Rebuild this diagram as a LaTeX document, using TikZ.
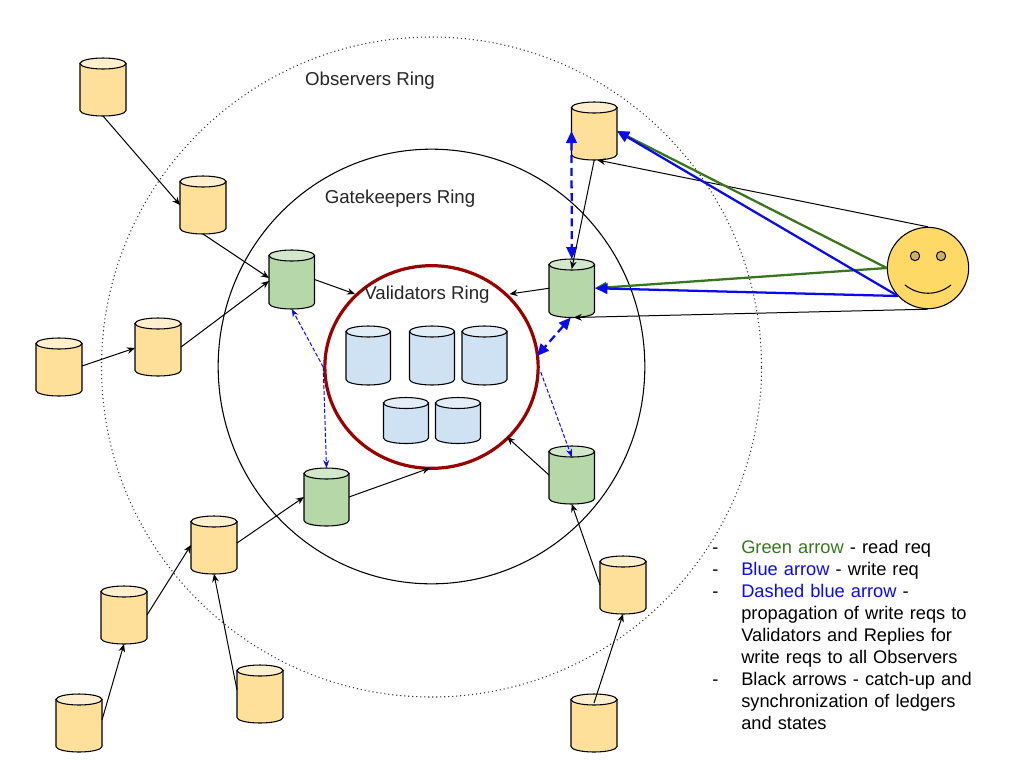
\documentclass[tikz,border=0pt]{standalone}
\usepackage{fontspec}
\setmainfont{Liberation Sans}
\usetikzlibrary{calc,arrows.meta,shapes.geometric}
\definecolor{yelbody}{HTML}{FFE09B}
\definecolor{yeltop}{HTML}{FFEFCC}
\definecolor{grnbody}{HTML}{B6D7A8}
\definecolor{grntop}{HTML}{D3E7CB}
\definecolor{blubody}{HTML}{CFE2F3}
\definecolor{blutop}{HTML}{E2EDF7}
\definecolor{rimred}{HTML}{990000}
\definecolor{facefill}{HTML}{FFD966}
\definecolor{eyefill}{HTML}{CCB05C}
\definecolor{reqgreen}{HTML}{38761D}
\definecolor{reqblue}{HTML}{0A0AF0}
\newcommand{\cylnode}[7]{%
  % #1 name, #2 left, #3 top, #4 width, #5 height, #6 body, #7 top colour
  \pgfmathsetmacro{\cR}{#2+#4}%
  \pgfmathsetmacro{\cB}{#3+#5}%
  \pgfmathsetmacro{\cM}{#2+#4/2}%
  \pgfmathsetmacro{\cK}{#4/2*0.4477}%
  \pgfmathsetmacro{\cT}{#3+5.5}%
  \pgfmathsetmacro{\cU}{\cB-5.5}%
  \pgfmathsetmacro{\cC}{\cB-2.46}%
  \pgfmathsetmacro{\cLa}{\cM-#4/2+\cK}%
  \pgfmathsetmacro{\cRa}{\cM+#4/2-\cK}%
  \node[cylbox,minimum width=#4*0.75pt,minimum height=#5*0.75pt,anchor=north west] (#1) at (#2,#3) {};
  \draw[cylline,fill=#6] (#2,\cT) -- (#2,\cU) .. controls (#2,\cC) and (\cLa,\cB) .. (\cM,\cB) .. controls (\cRa,\cB) and (\cR,\cC) .. (\cR,\cU) -- (\cR,\cT) -- cycle;
  \draw[cylline,fill=#7] (\cM,\cT) ellipse [x radius=#4/2, y radius=5.5];
}
\tikzset{
  cylbox/.style={inner sep=0pt,outer sep=0pt,rectangle},
  cylline/.style={draw=black,line width=0.8pt},
  ringlabel/.style={font=\fontsize{14}{16.5}\selectfont,text=black!85,inner sep=0pt},
  sync/.style={draw=black,line width=0.75pt,-{Stealth[length=6pt,width=5pt]}},
  readreq/.style={draw=reqgreen,line width=1.7pt,-{Triangle[length=9pt,width=8pt]}},
  writereq/.style={draw=reqblue,line width=1.7pt,-{Triangle[length=9pt,width=8pt]}},
  propthick/.style={draw=reqblue,line width=1.7pt,dash pattern=on 6pt off 3.5pt,{Triangle[length=9pt,width=8pt]}-{Triangle[length=9pt,width=8pt]}},
  propthin/.style={draw=reqblue,line width=0.75pt,dash pattern=on 3pt off 1.5pt,-{Stealth[length=6pt,width=4.5pt]}},
  legend/.style={font=\fontsize{13.7}{16.5}\selectfont,inner sep=0pt,align=left,anchor=north west},
}
\begin{document}
\begin{tikzpicture}[x=0.75pt,y=-0.75pt]
\useasboundingbox (0,0) rectangle (1024,768);
\fill[white] (0,0) rectangle (1024,768);
% rings
\node[circle,draw=black!80,line width=0.8pt,dash pattern=on 0.8pt off 2.2pt,minimum size=495pt,inner sep=0pt] (observers) at (431.5,367) {};
\node[ellipse,draw=black,line width=0.8pt,minimum width=320pt,minimum height=326pt,inner sep=0pt] (gatekeepers) at (431.5,366.5) {};
\node[ellipse,draw=rimred,line width=2.4pt,minimum width=160pt,minimum height=152pt,inner sep=0pt] (validators) at (431.5,367) {};
% ring labels
\node[ringlabel] (obslabel) at (370,81) {Observers Ring};
\node[ringlabel] (gatelabel) at (400,199) {Gatekeepers Ring};
\node[ringlabel] (vallabel) at (427,295) {Validators Ring};
% yellow
\cylnode{yA}{80}{58}{46}{58}{yelbody}{yeltop}
\cylnode{yB}{180}{176}{46}{58}{yelbody}{yeltop}
\cylnode{yC}{135}{318}{46}{58}{yelbody}{yeltop}
\cylnode{yD}{36}{338}{46}{58}{yelbody}{yeltop}
\cylnode{yE}{191}{516}{46}{58}{yelbody}{yeltop}
\cylnode{yF}{101}{586}{46}{58}{yelbody}{yeltop}
\cylnode{yG}{237}{665}{46}{58}{yelbody}{yeltop}
\cylnode{yH}{56}{694}{46}{58}{yelbody}{yeltop}
\cylnode{yI}{600}{556}{46}{58}{yelbody}{yeltop}
\cylnode{yJ}{571}{694}{46}{58}{yelbody}{yeltop}
\cylnode{yK}{571.5}{102}{45.5}{58}{yelbody}{yeltop}
% green
\cylnode{gA}{269}{250}{45.5}{59}{grnbody}{grntop}
\cylnode{gB}{304}{468}{45}{58}{grnbody}{grntop}
\cylnode{gC}{549}{259}{45.5}{58.5}{grnbody}{grntop}
\cylnode{gD}{549}{446}{45.5}{58}{grnbody}{grntop}
% blue
\cylnode{bA}{346}{326}{44.5}{59}{blubody}{blutop}
\cylnode{bB}{409.5}{326}{45}{59}{blubody}{blutop}
\cylnode{bC}{462}{326}{45}{59}{blubody}{blutop}
\cylnode{bD}{383.5}{397.5}{45}{46}{blubody}{blutop}
\cylnode{bE}{435.5}{397.5}{45}{46}{blubody}{blutop}
% smiley
\node[circle,draw=black,line width=0.8pt,fill=facefill,minimum size=61pt,inner sep=0pt] (face) at (928,268) {};
\node[circle,draw=black,line width=0.7pt,fill=eyefill,minimum size=7pt,inner sep=0pt] (eyeL) at (915,256) {};
\node[circle,draw=black,line width=0.7pt,fill=eyefill,minimum size=7pt,inner sep=0pt] (eyeR) at (941,256) {};
\coordinate (smileL) at ($(face)+(-23,17)$);
\coordinate (smileR) at ($(face)+(23,17)$);
\draw[line width=0.8pt,line cap=round] (smileL) .. controls ($(smileL)+(14,11)$) and ($(smileR)+(-14,11)$) .. (smileR);
% black arrows
\draw[sync] (yA.south) -- (yB.west);
\draw[sync] (yB.south) -- ($(gA.west)+(0,-1.5)$);
\draw[sync] (yC.east) -- ($(gA.west)+(0,1.5)$);
\draw[sync] ($(yD.east)+(0,-1)$) -- ($(yC.west)+(0,1)$);
\draw[sync] ($(yE.east)+(0,-2)$) -- (gB.west);
\draw[sync] (yF.east) -- (yE.west);
\draw[sync] ($(yG.west)+(0,-4)$) -- (yE.south);
\draw[sync] ($(yH.east)+(0,-3)$) -- (yF.south);
\draw[sync] (yI.west) -- (gD.south);
\draw[sync] ($(yJ.north)+(0,9)$) -- (yI.south);
\draw[sync] (yK.south) -- ($(gC.north)+(0,10)$);
\draw[sync] (face.north) -- ($(yK.south)+(3,0)$);
\draw[sync] (face.south) -- ($(gC.south)+(2,0)$);
\draw[sync] (gA.east) -- ($(validators)+(-76.5,-73)$);
\draw[sync] (gC.west) -- ($(validators)+(78,-73)$);
\draw[sync] (gB.east) -- ($(validators)+(-1.5,101)$);
\draw[sync] (gD.west) -- ($(validators)+(75.5,70)$);
% request arrows
\draw[readreq] (face.west) -- (yK.east);
\draw[readreq] (face.west) -- (gC.east);
\draw[writereq] ($(face)+(-30,28)$) -- (yK.east);
\draw[writereq] ($(face)+(-30,28)$) -- ($(gC.east)+(1,0)$);
% dashed propagation
\draw[propthick] (yK.west) -- (gC.north);
\draw[propthick] ($(gC.south)+(-1,0)$) -- ($(validators)+(105.5,-11)$);
\coordinate (leftpoint) at (validators.west);
\coordinate (rightpoint) at ($(validators.east)+(1,5)$);
\draw[propthin] (leftpoint) -- (gA.south);
\draw[propthin] (leftpoint) -- (gB.north);
\draw[propthin] (rightpoint) -- ($(gD.north)+(0,11)$);
% legend
\node[legend] (legdash) at (712,540) {\vphantom{d}-\\\vphantom{d}-\\\vphantom{d}-\\[49.5pt]\vphantom{d}-};
\node[legend,text width=190pt] (legtext) at (741,540) {\textcolor{reqgreen}{Green arrow} - read req\\
\textcolor{reqblue}{Blue arrow} - write req\\
\textcolor{reqblue}{Dashed blue arrow} -\\
propagation of write reqs to\\
Validators and Replies for\\
write reqs to all Observers\\
Black arrows - catch-up and\\
synchronization of ledgers\\
and states};
\end{tikzpicture}
\end{document}
